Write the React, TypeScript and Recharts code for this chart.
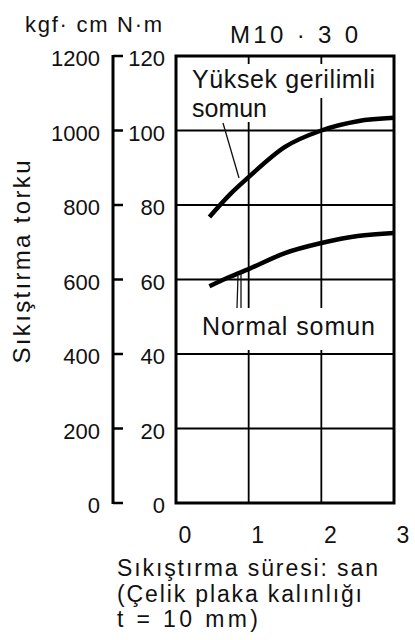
import React from "react";
import { LineChart, Line, XAxis, YAxis, CartesianGrid, ReferenceArea } from "recharts";

// time axis (s) and torque readings (N·m)
const times = [0.46, 0.75, 1, 1.5, 2, 2.5, 3];
const highTension = [76.8, 83, 87.5, 95.6, 100, 102.5, 103.4];
const normalNut = [58.2, 60.8, 62.8, 67.1, 69.8, 71.7, 72.5];

const xTicks = [0, 1, 2, 3];
const nmTicks = [0, 20, 40, 60, 80, 100, 120];
const kgfPerNm = 10; // 1 N·m ≈ 10 kgf·cm on the outer scale

const data = times.map((t, i) => ({ t, high: highTension[i], normal: normalNut[i] }));

const FONT = "'Liberation Sans', Arial, Helvetica, sans-serif";

const W = 415;
const H = 640;
const M = { top: 56, right: 21, bottom: 97, left: 0 };
const X_AXIS_H = 40;
const KGF_W = 113; // outer scale column, its line sits at its right edge
const NM_W = 63;
const PLOT_BOTTOM = H - M.bottom - X_AXIS_H;

const TorqueTick = (props: any) => {
  const { y, payload } = props;
  const axisX = M.left + KGF_W;
  const plotLeft = axisX + NM_W;
  return (
    <g fontFamily={FONT} fontSize={22} fill="#111">
      <line x1={axisX} y1={y} x2={axisX + 10} y2={y} stroke="#000" strokeWidth={2.5} />
      <text x={axisX - 13} y={y + 10} textAnchor="end">
        {payload.value * kgfPerNm}
      </text>
      <text x={plotLeft - 11} y={y + 10} textAnchor="end">
        {payload.value}
      </text>
    </g>
  );
};

const TimeTick = (props: any) => {
  const { x, y, payload } = props;
  return (
    <text x={x + 9} y={y + 40} textAnchor="middle" fontSize={23} fontFamily={FONT} fill="#111">
      {payload.value}
    </text>
  );
};

export default function App() {
  const axisX = M.left + KGF_W;
  return (
    <div style={{ position: "absolute", left: 0, top: 0, width: W, height: H, background: "#fff" }}>
      <LineChart width={W} height={H} data={data} margin={M}>
        <CartesianGrid stroke="#000" strokeWidth={1.8} strokeOpacity={1} />
        <XAxis
          type="number"
          dataKey="t"
          domain={[0, 3]}
          ticks={xTicks}
          height={X_AXIS_H}
          axisLine={false}
          tickLine={false}
          tickSize={0}
          tickMargin={0}
          tick={<TimeTick />}
        />
        <YAxis
          domain={[0, 120]}
          ticks={nmTicks}
          width={KGF_W + NM_W}
          axisLine={false}
          tickLine={false}
          tickSize={0}
          tickMargin={0}
          tick={<TorqueTick />}
        />
        <ReferenceArea x1={0} x2={3} y1={0} y2={120} fill="none" stroke="#000" strokeWidth={3} ifOverflow="visible" />
        <Line type="monotone" dataKey="high" stroke="#000" strokeWidth={4.5} dot={false} isAnimationActive={false} />
        <Line type="monotone" dataKey="normal" stroke="#000" strokeWidth={4.5} dot={false} isAnimationActive={false} />
      </LineChart>

      <svg width={W} height={H} style={{ position: "absolute", left: 0, top: 0, pointerEvents: "none" }}>
        {/* outer kgf·cm scale line */}
        <line x1={axisX} y1={M.top - 1} x2={axisX} y2={PLOT_BOTTOM + 1} stroke="#000" strokeWidth={3} />
        <g fontFamily={FONT} fill="#111">
          <text x={25} y={32} fontSize={22} textLength={137} lengthAdjust="spacing">kgf· cm  N·m</text>
          <text x={230} y={43} fontSize={24} textLength={128} lengthAdjust="spacing">M10 · 3 0</text>

          {/* label boxes break the grid lines */}
          <rect x={188} y={64} width={194} height={34} fill="#fff" />
          <rect x={188} y={98} width={76} height={24} fill="#fff" />
          <text x={192} y={88} fontSize={25} textLength={183} lengthAdjust="spacing">Yüksek  gerilimli</text>
          <text x={192} y={117} fontSize={25} textLength={75} lengthAdjust="spacing">somun</text>
          <line x1={223} y1={123} x2={239} y2={178} stroke="#111" strokeWidth={1.3} />

          <rect x={199} y={308} width={180} height={42} fill="#fff" />
          <text x={202} y={335} fontSize={25} textLength={173} lengthAdjust="spacing">Normal  somun</text>
          <line x1={238} y1={276} x2={237} y2={308} stroke="#111" strokeWidth={1.3} />
          <line x1={241} y1={272} x2={241} y2={308} stroke="#111" strokeWidth={1.3} />

          <text x={30} y={262} fontSize={24} textAnchor="middle" textLength={203} lengthAdjust="spacing" transform="rotate(-90 30 262)">
            Sıkıştırma  torku
          </text>

          <text x={117} y={576} fontSize={23} textLength={261} lengthAdjust="spacing">Sıkıştırma  süresi:  san</text>
          <text x={117} y={602} fontSize={23} textLength={245} lengthAdjust="spacing">(Çelik  plaka  kalınlığı</text>
          <text x={117} y={627} fontSize={23} textLength={141} lengthAdjust="spacing">t  =  10  mm)</text>
        </g>
      </svg>
    </div>
  );
}
